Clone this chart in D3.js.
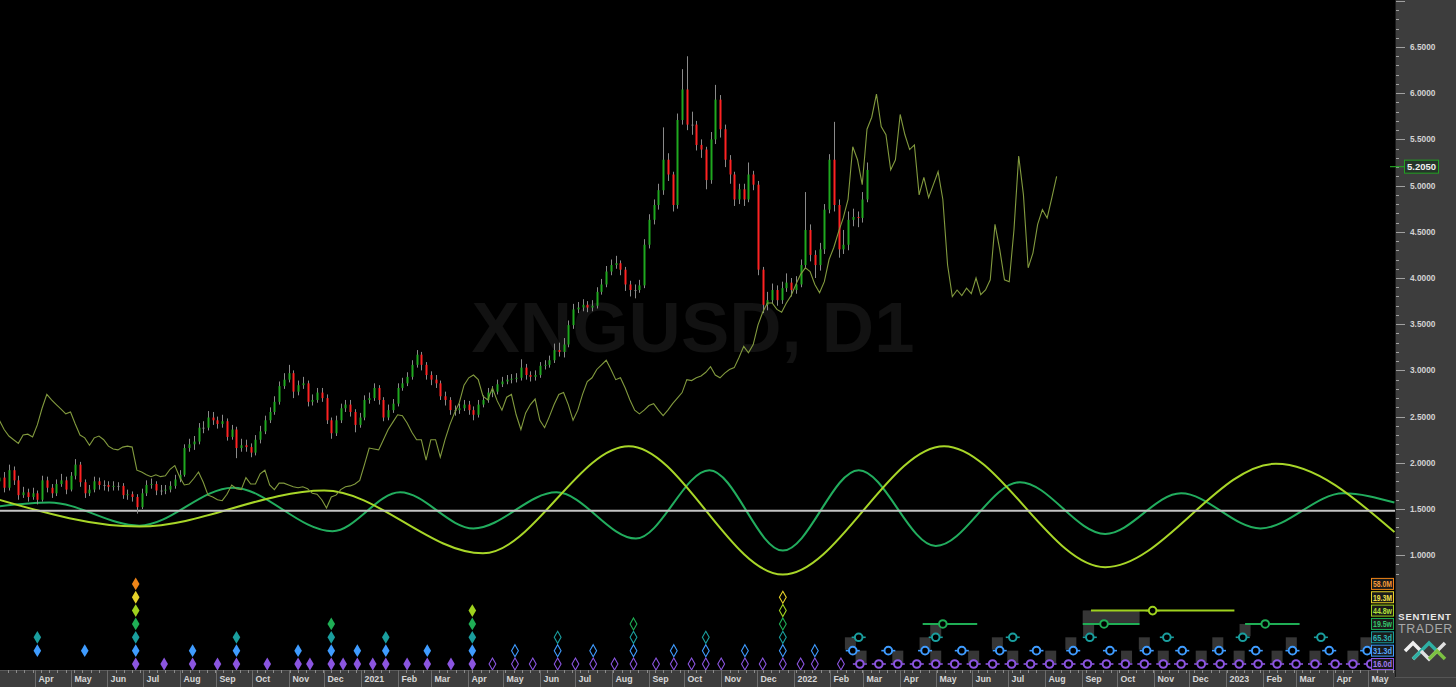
<!DOCTYPE html>
<html><head><meta charset="utf-8">
<script src="https://cdn.jsdelivr.net/npm/d3@7"></script>
<style>html,body{margin:0;padding:0;background:#000;overflow:hidden}</style>
</head><body>
<svg id="chart" width="1456" height="687"></svg>
<script>
// ---------------- DATA ----------------
const candleStart = "2020-03-02";
const candleStepDays = 4;
const firstOpen = 1.80;
const candleClose = [1.84,1.73,1.92,1.81,1.65,1.68,1.63,1.67,1.60,1.81,
1.73,1.67,1.77,1.81,1.71,1.86,1.98,1.79,1.67,1.71,
1.80,1.76,1.76,1.74,1.75,1.75,1.65,1.66,1.63,1.52,
1.67,1.76,1.77,1.70,1.70,1.71,1.75,1.82,1.87,2.16,
2.20,2.23,2.38,2.38,2.49,2.46,2.42,2.45,2.28,2.36,
2.16,2.19,2.17,2.11,2.25,2.34,2.46,2.55,2.66,2.83,
2.90,2.97,2.77,2.84,2.86,2.66,2.68,2.76,2.70,2.46,
2.32,2.46,2.59,2.63,2.55,2.41,2.49,2.68,2.70,2.81,
2.68,2.49,2.57,2.64,2.81,2.86,2.93,3.06,3.17,3.06,
2.95,2.90,2.86,2.72,2.68,2.57,2.57,2.59,2.63,2.57,
2.52,2.63,2.68,2.76,2.77,2.85,2.88,2.90,2.91,2.92,
3.03,2.95,2.93,2.95,3.05,3.06,3.11,3.22,3.20,3.28,
3.49,3.66,3.68,3.71,3.68,3.70,3.85,3.93,4.07,4.14,
4.16,4.09,3.93,3.87,3.87,3.92,4.36,4.63,4.79,4.95,
5.28,5.12,4.79,5.71,6.04,5.66,5.66,5.44,5.39,5.06,
5.50,5.93,5.61,5.28,5.12,4.85,4.96,4.85,5.12,5.01,
4.09,3.71,3.76,3.87,3.76,3.89,3.95,3.87,3.93,4.14,
4.52,4.25,4.14,4.31,4.74,5.28,4.79,4.31,4.36,4.63,
4.66,4.65,4.85,5.17];
const candleHigh = [1.92,1.90,1.98,1.96,1.86,1.74,1.72,1.73,1.70,1.86,
1.85,1.77,1.82,1.88,1.85,1.90,2.04,2.01,1.82,1.76,
1.85,1.84,1.81,1.80,1.80,1.79,1.78,1.71,1.69,1.66,
1.72,1.81,1.83,1.80,1.76,1.76,1.80,1.87,1.92,2.20,
2.26,2.29,2.43,2.45,2.56,2.55,2.50,2.52,2.48,2.41,
2.39,2.26,2.25,2.21,2.30,2.40,2.51,2.60,2.72,2.88,
2.97,3.06,3.00,2.89,2.93,2.89,2.74,2.81,2.81,2.74,
2.49,2.51,2.64,2.68,2.68,2.58,2.54,2.73,2.76,2.86,
2.84,2.71,2.63,2.69,2.86,2.92,2.98,3.11,3.22,3.20,
3.09,2.99,2.95,2.89,2.77,2.71,2.62,2.64,2.68,2.67,
2.61,2.68,2.73,2.81,2.83,2.90,2.93,2.95,2.96,2.97,
3.12,3.07,2.99,3.00,3.09,3.11,3.16,3.29,3.30,3.35,
3.54,3.72,3.74,3.77,3.75,3.76,3.90,3.99,4.13,4.20,
4.24,4.19,4.12,3.97,3.93,3.98,4.42,4.69,4.85,5.02,
5.63,5.35,5.15,5.78,6.26,6.40,5.80,5.70,5.50,5.42,
5.58,6.09,5.98,5.66,5.33,5.15,5.02,5.02,5.25,5.16,
5.05,4.12,3.85,3.94,3.92,3.96,4.05,4.00,4.02,4.20,
4.93,4.58,4.30,4.38,4.80,5.34,5.69,4.85,4.52,4.72,
4.75,4.72,4.93,5.25];
const candleLow = [1.76,1.68,1.70,1.76,1.60,1.62,1.58,1.60,1.55,1.58,
1.68,1.62,1.64,1.74,1.66,1.69,1.82,1.74,1.62,1.64,
1.68,1.71,1.70,1.69,1.70,1.70,1.61,1.60,1.58,1.45,
1.50,1.64,1.72,1.65,1.65,1.66,1.68,1.72,1.79,1.85,
2.12,2.14,2.20,2.32,2.35,2.41,2.37,2.38,2.24,2.25,
2.05,2.12,2.12,2.06,2.08,2.21,2.31,2.43,2.52,2.63,
2.80,2.87,2.70,2.73,2.80,2.61,2.62,2.65,2.66,2.42,
2.26,2.29,2.43,2.55,2.50,2.33,2.38,2.46,2.64,2.67,
2.63,2.45,2.46,2.54,2.61,2.78,2.83,2.90,3.03,3.00,
2.90,2.84,2.81,2.68,2.62,2.52,2.51,2.53,2.56,2.52,
2.46,2.49,2.60,2.65,2.71,2.74,2.82,2.85,2.86,2.87,
2.89,2.90,2.88,2.89,2.92,3.01,3.03,3.08,3.15,3.14,
3.25,3.45,3.62,3.64,3.63,3.64,3.67,3.82,3.90,4.03,
4.10,4.03,3.86,3.80,3.78,3.84,3.89,4.32,4.58,4.74,
4.90,5.05,4.72,4.75,5.66,5.60,5.55,5.38,5.30,4.96,
5.02,5.45,5.52,5.20,5.02,4.78,4.80,4.78,4.82,4.95,
4.03,3.62,3.65,3.72,3.70,3.72,3.85,3.80,3.83,3.90,
4.10,4.18,4.00,4.08,4.26,4.70,4.72,4.22,4.26,4.30,
4.56,4.55,4.60,4.82];

// FLD (thin olive line), same 4-day grid from candleStart
const fldValues = [2.46,2.36,2.29,2.25,2.21,2.30,2.31,2.28,2.41,2.59,
2.74,2.68,2.63,2.58,2.53,2.55,2.42,2.30,2.27,2.19,
2.27,2.29,2.25,2.18,2.15,2.14,2.17,2.18,2.17,1.92,
1.90,1.87,1.85,1.87,1.85,1.86,1.93,1.97,1.85,1.76,
1.77,1.83,1.90,1.79,1.65,1.63,1.60,1.59,1.66,1.76,
1.72,1.71,1.84,1.77,1.77,1.88,1.92,1.76,1.71,1.78,
1.78,1.76,1.74,1.73,1.74,1.72,1.67,1.66,1.60,1.51,
1.63,1.65,1.71,1.74,1.75,1.77,1.81,1.98,2.16,2.15,
2.14,2.25,2.36,2.44,2.52,2.51,2.43,2.33,2.25,2.25,
2.03,2.25,2.25,2.06,2.25,2.41,2.54,2.65,2.84,2.92,
2.95,2.90,2.72,2.68,2.81,2.67,2.57,2.71,2.74,2.52,
2.36,2.54,2.63,2.69,2.46,2.38,2.50,2.63,2.74,2.76,
2.63,2.46,2.57,2.74,2.88,2.92,3.01,3.06,3.11,3.01,
2.90,2.92,2.81,2.68,2.57,2.53,2.57,2.62,2.64,2.57,
2.51,2.57,2.64,2.70,2.76,2.90,2.89,2.92,2.94,2.98,
3.04,2.95,2.92,2.97,3.01,3.03,3.14,3.26,3.19,3.28,
3.49,3.63,3.73,3.73,3.66,3.63,3.73,3.81,3.93,4.04,
4.11,4.07,3.93,3.84,3.96,4.20,4.33,4.50,4.65,4.85,
5.42,5.28,5.01,5.61,5.74,5.99,5.64,5.55,5.17,5.28,
5.77,5.55,5.39,5.44,4.90,5.09,4.87,5.01,5.15,4.85,
4.14,3.80,3.87,3.81,3.89,3.83,4.00,3.82,3.87,3.98,
4.58,4.31,3.98,3.96,4.52,5.32,4.90,4.11,4.27,4.58,
4.74,4.65,4.87,5.10];

// Cycle composites (turning points)
const cycle448Dates = ["2020-03-02","2020-06-28","2020-12-01","2021-04-14","2021-08-15","2021-12-23","2022-05-08","2022-09-21","2023-02-12","2023-05-23"];
const cycle448Values = [1.60,1.31,1.70,1.02,2.18,0.79,2.18,0.87,1.99,1.25];
const cycle195Dates = ["2020-03-02","2020-04-13","2020-06-28","2020-09-15","2020-12-08","2021-02-03","2021-04-06","2021-06-15","2021-08-21","2021-10-22","2021-12-23","2022-02-25","2022-05-01","2022-07-11","2022-09-21","2022-11-24","2023-01-30","2023-04-10","2023-05-23"];
const cycle195Values = [1.53,1.57,1.32,1.73,1.26,1.68,1.29,1.68,1.18,1.92,1.05,1.92,1.10,1.79,1.23,1.67,1.29,1.67,1.57];
const baseLineValue = 1.48;

const priceTicks = [1.0,1.5,2.0,2.5,3.0,3.5,4.0,4.5,5.0,5.5,6.0,6.5];
const lastPrice = 5.2050;
const symbolText = "XNGUSD, D1";

// Cycle rows (bottom to top)
const cycleLabels = ["16.0d","31.3d","65.3d","19.5w","44.8w","19.3M","58.0M"];
const cycleColors = ["#8b55e0","#3f9cff","#1a9e9e","#1fae55","#9fd21e","#e6d22a","#ee8418"];
const cycleText   = ["#a07af0","#55a8ff","#2bb5b5","#35c46a","#b0e03a","#f2e04a","#f59a38"];

// Past troughs (solid diamonds)
const solid16d  = ["2020-06-25","2020-07-19","2020-08-12","2020-09-02","2020-09-18","2020-10-14","2020-11-09","2020-11-19","2020-12-07","2020-12-17","2020-12-29","2021-01-11","2021-01-22","2021-02-09","2021-02-26","2021-03-18","2021-04-05"];
const solid31d  = ["2020-04-03","2020-05-13","2020-06-25","2020-08-12","2020-09-18","2020-11-09","2020-12-07","2020-12-29","2021-01-22","2021-02-26","2021-04-05"];
const solid65d  = ["2020-04-03","2020-06-25","2020-09-18","2020-12-07","2021-01-22","2021-04-05"];
const solid195w = ["2020-06-25","2020-12-07","2021-04-05"];
const solid448w = ["2020-06-25","2021-04-05"];
const solid193M = ["2020-06-25"];
const solid58M  = ["2020-06-25"];
// Recent troughs (outline diamonds)
const open16d  = ["2021-04-22","2021-05-11","2021-05-26","2021-06-16","2021-07-01","2021-07-16","2021-08-03","2021-08-19","2021-09-07","2021-09-22","2021-10-07","2021-10-19","2021-11-01","2021-11-21","2021-12-06","2021-12-23","2022-01-07","2022-01-19","2022-02-10"];
const open31d  = ["2021-05-11","2021-06-16","2021-07-16","2021-08-19","2021-09-22","2021-10-19","2021-11-21","2021-12-23","2022-01-19"];
const open65d  = ["2021-06-16","2021-08-19","2021-10-19","2021-12-23"];
const open195w = ["2021-08-19","2021-12-23"];
const open448w = ["2021-12-23"];
const open193M = ["2021-12-23"];
// Projected troughs (circles)
const proj16d = ["2022-02-26","2022-03-14","2022-03-30","2022-04-15","2022-05-01","2022-05-17","2022-06-02","2022-06-18","2022-07-04","2022-07-20","2022-08-05","2022-08-21","2022-09-06","2022-09-22","2022-10-08","2022-10-24","2022-11-09","2022-11-24","2022-12-11","2022-12-27","2023-01-12","2023-01-28","2023-02-13","2023-03-01","2023-03-17","2023-04-03","2023-04-18","2023-05-03"];
const proj31d = ["2022-02-20","2022-03-22","2022-04-22","2022-05-23","2022-06-24","2022-07-25","2022-08-25","2022-09-25","2022-10-26","2022-11-25","2022-12-26","2023-01-26","2023-02-26","2023-03-29","2023-04-30"];
const proj65d = ["2022-02-25","2022-05-01","2022-07-05","2022-09-08","2022-11-12","2023-01-15","2023-03-22"];
const proj195w = ["2022-05-07","2022-09-20","2023-02-03"];
const proj195wFrom = ["2022-04-20","2022-09-02","2023-01-17"];
const proj195wTo = ["2022-06-05","2022-10-20","2023-03-04"];
const proj448w = ["2022-10-31"];
const proj448wFrom = ["2022-09-09"];
const proj448wTo = ["2023-01-08"];
// Variance boxes above projections
const boxDates = ["2022-02-18","2022-02-27","2022-03-30","2022-04-22","2022-05-01","2022-05-01","2022-06-02","2022-06-22","2022-07-05","2022-08-06","2022-08-23","2022-09-07","2022-10-09","2022-10-24","2022-11-09","2022-12-11","2022-12-25","2023-01-12","2023-01-17","2023-02-13","2023-02-25","2023-03-17","2023-04-18","2023-04-29"];
const boxTopRow = [2,1,1,2,3,1,1,2,1,1,2,4,1,2,1,1,2,1,3,1,2,1,1,2];
const boxBottomRow = [1,0,0,1,2,0,0,1,0,0,1,2,0,1,0,0,1,0,2,0,1,0,0,1];
const wideBoxFrom = ["2022-09-02"], wideBoxTo = ["2022-10-20"], wideBoxTop = [4], wideBoxBottom = [3];

// ---------------- DRAW ----------------
const W = 1456, H = 687, plotR = 1395, plotB = 670;
const parse = d3.utcParse("%Y-%m-%d");
const svg = d3.select("#chart");
const FONT = "'Liberation Sans', Arial, sans-serif";

const x = d3.scaleUtc()
  .domain([new Date(Date.UTC(2020,2,2,12)), new Date(Date.UTC(2023,4,23,12))])
  .range([0, plotR]);
const y = d3.scaleLinear().domain([1.5, 6.5]).range([509, 47]);
const rowY = r => 664 - r * 13.35;

svg.append("rect").attr("width", W).attr("height", H).attr("fill", "#000");
svg.append("defs").append("clipPath").attr("id","plotClip")
  .append("rect").attr("x",0).attr("y",0).attr("width",plotR).attr("height",plotB);
const plot = svg.append("g").attr("clip-path","url(#plotClip)");

// watermark
plot.append("text").attr("x", 693).attr("y", 352).attr("text-anchor","middle")
  .attr("font-family", FONT).attr("font-weight", 900).attr("font-size", 70)
  .attr("textLength", 443).attr("lengthAdjust","spacingAndGlyphs")
  .attr("fill", "#121212").text(symbolText);

// cycle curves
function curveData(dates, vals){ return dates.map((d,i)=>({d:parse(d), v:vals[i]})); }
const lineGen = d3.line().x(p=>x(p.d)).y(p=>y(p.v)).curve(d3.curveMonotoneX);
plot.append("path").datum(curveData(cycle195Dates, cycle195Values)).attr("d", lineGen)
  .attr("fill","none").attr("stroke","#22ad5e").attr("stroke-width",2);
plot.append("path").datum(curveData(cycle448Dates, cycle448Values)).attr("d", lineGen)
  .attr("fill","none").attr("stroke","#a8d628").attr("stroke-width",2);

// base line
plot.append("line").attr("x1",0).attr("x2",plotR).attr("y1",y(baseLineValue)).attr("y2",y(baseLineValue))
  .attr("stroke","#c4c4c4").attr("stroke-width",2);

// candles
const start = parse(candleStart);
const candles = candleClose.map((c,i)=>({
  d: d3.utcDay.offset(start, candleStepDays*i),
  o: i===0 ? firstOpen : candleClose[i-1], c, h: candleHigh[i], l: candleLow[i]
}));
const cg = plot.append("g");
cg.selectAll("line.wick").data(candles).join("line")
  .attr("x1",d=>Math.round(x(d.d))+0.5).attr("x2",d=>Math.round(x(d.d))+0.5)
  .attr("y1",d=>y(Math.max(d.h,d.o,d.c))).attr("y2",d=>y(Math.min(d.l,d.o,d.c)))
  .attr("stroke","#8a8a8a").attr("stroke-width",1);
cg.selectAll("rect.body").data(candles).join("rect")
  .attr("x",d=>Math.round(x(d.d))-0.5).attr("width",2)
  .attr("y",d=>y(Math.max(d.o,d.c)))
  .attr("height",d=>Math.max(1, Math.abs(y(d.o)-y(d.c))))
  .attr("fill",d=> d.c>d.o ? "#1fa81f" : (d.c<d.o ? "#ff2222" : "#8a8a8a"));

// FLD line
const fld = fldValues.map((v,i)=>({d: d3.utcDay.offset(start, candleStepDays*i), v}));
plot.append("path").datum(fld)
  .attr("d", d3.line().x(p=>x(p.d)).y(p=>y(p.v)))
  .attr("fill","none").attr("stroke","#829a3e").attr("stroke-width",1.1);

// ---- trough markers ----
const mk = svg.append("g");
const diamond = "M0,-6.4L3.8,0L0,6.4L-3.8,0Z";
const solidRows = [solid16d, solid31d, solid65d, solid195w, solid448w, solid193M, solid58M];
const openRows = [open16d, open31d, open65d, open195w, open448w, open193M];
solidRows.forEach((arr, r)=>{
  mk.selectAll(null).data(arr).join("path").attr("d", diamond)
    .attr("transform", d=>`translate(${x(parse(d))},${rowY(r)})`)
    .attr("fill", cycleColors[r]);
});
openRows.forEach((arr, r)=>{
  mk.selectAll(null).data(arr).join("path").attr("d", "M0,-6L3.4,0L0,6L-3.4,0Z")
    .attr("transform", d=>`translate(${x(parse(d))},${rowY(r)})`)
    .attr("fill", "none").attr("stroke", cycleColors[r]).attr("stroke-width", 1.1);
});

// variance boxes
boxDates.forEach((d,i)=>{
  const cx = x(parse(d));
  mk.append("rect").attr("x", cx-5.5).attr("width", 11)
    .attr("y", rowY(boxTopRow[i])).attr("height", rowY(boxBottomRow[i]) - rowY(boxTopRow[i]) - 1)
    .attr("fill", "#363636");
});
wideBoxFrom.forEach((d,i)=>{
  mk.append("rect").attr("x", x(parse(d))).attr("width", x(parse(wideBoxTo[i])) - x(parse(d)))
    .attr("y", rowY(wideBoxTop[i])).attr("height", rowY(wideBoxBottom[i]) - rowY(wideBoxTop[i]) - 1)
    .attr("fill", "#363636");
});

// range lines
function rangeLines(from, to, r){
  from.forEach((d,i)=>{
    mk.append("line").attr("x1", x(parse(d))).attr("x2", x(parse(to[i])))
      .attr("y1", rowY(r)).attr("y2", rowY(r)).attr("stroke", cycleColors[r]).attr("stroke-width", 2);
  });
}
rangeLines(proj195wFrom, proj195wTo, 3);
rangeLines(proj448wFrom, proj448wTo, 4);

const projRows = [[proj16d,0],[proj31d,1],[proj65d,2],[proj195w,3],[proj448w,4]];
projRows.forEach(([arr, r])=>{
  const g = mk.append("g");
  arr.forEach(d=>{
    const cx = x(parse(d)), cy = rowY(r);
    g.append("line").attr("x1", cx-7).attr("x2", cx+7).attr("y1", cy).attr("y2", cy)
      .attr("stroke", cycleColors[r]).attr("stroke-width", 1.6);
    g.append("circle").attr("cx", cx).attr("cy", cy).attr("r", 3.8)
      .attr("fill", "#000").attr("stroke", cycleColors[r]).attr("stroke-width", 2);
  });
});

// legend labels
cycleLabels.forEach((lab, r)=>{
  const cy = rowY(r);
  svg.append("rect").attr("x", 1371.5).attr("y", cy-5.5).attr("width", 22).attr("height", 11)
    .attr("fill", "#1a1a1a").attr("stroke", cycleColors[r]).attr("stroke-width", 1);
  svg.append("text").attr("x", 1382.5).attr("y", cy+3.3).attr("text-anchor","middle")
    .attr("font-family", FONT).attr("font-weight", 700).attr("font-size", 9)
    .attr("textLength", 19).attr("lengthAdjust","spacingAndGlyphs")
    .attr("fill", cycleText[r]).text(lab);
});

// ---- bottom time axis ----
svg.append("rect").attr("x",0).attr("y",plotB).attr("width",W).attr("height",H-plotB).attr("fill","#3d3d3d");
svg.append("line").attr("x1",0).attr("x2",plotR).attr("y1",plotB+0.5).attr("y2",plotB+0.5).attr("stroke","#5a5a5a");
const t0 = x.domain()[0], t1 = x.domain()[1];
svg.append("g").selectAll("line").data(d3.utcMonday.range(t0, t1)).join("line")
  .attr("x1",d=>Math.round(x(d))+0.5).attr("x2",d=>Math.round(x(d))+0.5)
  .attr("y1",plotB).attr("y2",plotB+3).attr("stroke","#8c8c8c");
const months = d3.utcMonth.range(t0, t1);
const ax = svg.append("g");
months.forEach(m=>{
  const sx = Math.round(x(m))+0.5;
  ax.append("line").attr("x1",sx).attr("x2",sx).attr("y1",plotB).attr("y2",H).attr("stroke","#6c6c6c");
  if (sx > 5) {
    ax.append("text").attr("x", sx+3).attr("y", 682)
      .attr("font-family", FONT).attr("font-weight",700).attr("font-size",8.8)
      .attr("fill","#d6d6d6")
      .text(m.getUTCMonth()===0 ? d3.utcFormat("%Y")(m) : d3.utcFormat("%b")(m));
  }
});

// ---- right price axis ----
svg.append("rect").attr("x",plotR).attr("y",0).attr("width",W-plotR).attr("height",677).attr("fill","#3d3d3d");
svg.append("line").attr("x1",plotR+0.5).attr("x2",plotR+0.5).attr("y1",0).attr("y2",677).attr("stroke","#1c1c1c");
svg.append("line").attr("x1",plotR).attr("x2",W).attr("y1",677.5).attr("y2",677.5).attr("stroke","#555");
const ya = svg.append("g");
d3.range(8, 71).forEach(k=>{
  const v = k/10, py = Math.round(y(v))+0.5;
  if (py < 1 || py > 676) return;
  const major = k % 5 === 0;
  ya.append("line").attr("x1",plotR+1).attr("x2",plotR+(major?10:4)).attr("y1",py).attr("y2",py)
    .attr("stroke","#a0a0a0");
});
priceTicks.forEach(v=>{
  ya.append("text").attr("x",1410).attr("y",y(v)+3)
    .attr("font-family",FONT).attr("font-weight",700).attr("font-size",8.3)
    .attr("fill","#d2d2d2").text(d3.format(".4f")(v));
});
// last price marker
const ly = y(lastPrice);
svg.append("line").attr("x1",plotR-5).attr("x2",1404).attr("y1",ly).attr("y2",ly).attr("stroke","#22a022").attr("stroke-width",1.2);
svg.append("rect").attr("x",1404.5).attr("y",ly-6.5).attr("width",34).attr("height",13)
  .attr("fill","#26342a").attr("stroke","#22a022");
svg.append("text").attr("x",1421.5).attr("y",ly+3.3).attr("text-anchor","middle")
  .attr("font-family",FONT).attr("font-weight",700).attr("font-size",9.5)
  .attr("fill","#f0f0f0").text(d3.format(".4f")(lastPrice));

// logo
const lg = svg.append("g");
lg.append("text").attr("x",1425).attr("y",620).attr("text-anchor","middle")
  .attr("font-family",FONT).attr("font-weight",700).attr("font-size",9.5)
  .attr("letter-spacing",0.8).attr("fill","#e8e8e8").text("SENTIENT");
lg.append("text").attr("x",1425.5).attr("y",632.5).attr("text-anchor","middle")
  .attr("font-family",FONT).attr("font-weight",300).attr("font-size",12.5)
  .attr("letter-spacing",0.6).attr("fill","#a8a8a8").text("TRADER");
lg.append("path").attr("d","M1405,651L1413,643L1421,651L1413,659").attr("fill","none").attr("stroke","#f0f0f0").attr("stroke-width",3.5).attr("stroke-linejoin","miter");
lg.append("path").attr("d","M1413,659L1421,651L1429,643L1437,651").attr("fill","none").attr("stroke","#2eb0a4").attr("stroke-width",3.5);
lg.append("path").attr("d","M1421,651L1429,659L1437,651L1445,643").attr("fill","none").attr("stroke","#e0e0e0").attr("stroke-width",3.5);
lg.append("path").attr("d","M1429,659L1437,651L1445,659").attr("fill","none").attr("stroke","#7cc242").attr("stroke-width",3.5);
</script>
</body></html>
